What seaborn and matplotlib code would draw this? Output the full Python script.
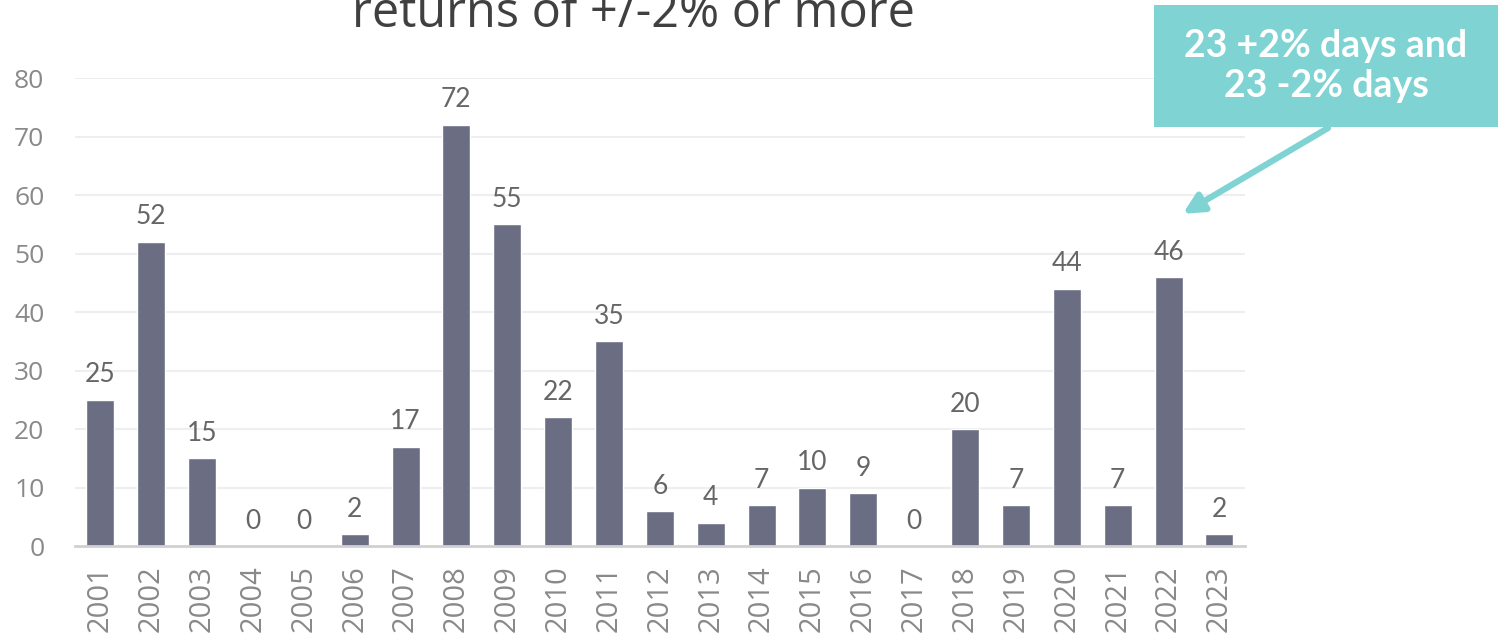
import matplotlib
matplotlib.use("Agg")
import matplotlib.pyplot as plt
from matplotlib.patches import Rectangle
import seaborn as sns
import pandas as pd

years = [str(y) for y in range(2001, 2024)]
counts = [25, 52, 15, 0, 0, 2, 17, 72, 55, 22, 35, 6, 4, 7, 10, 9, 0, 20, 7, 44, 7, 46, 2]
yticks = [0, 10, 20, 30, 40, 50, 60, 70, 80]
title_text = "returns of +/-2% or more"
callout_text = "23 +2% days and\n23 -2% days"

sns.set_theme(style="white")
plt.rcParams['font.family'] = ['Open Sans', 'DejaVu Sans']

df = pd.DataFrame({"year": years, "count": counts})

W, H = 1498, 635
fig = plt.figure(figsize=(W / 100, H / 100), dpi=100)
ax = fig.add_axes([0.050, 0.140, 0.781, 0.737])

sns.barplot(data=df, x="year", y="count", color="#6B6E82", width=0.55,
            saturation=1, ax=ax, zorder=3)

ax.set_ylim(0, 80)
ax.set_xlim(-0.5, len(years) - 0.5)
ax.set_yticks(yticks)
ax.set_xlabel("")
ax.set_ylabel("")
for y in yticks[1:]:
    ax.axhline(y, color="#EEEEEE", lw=1.5, zorder=1)
for s in ["top", "right", "left"]:
    ax.spines[s].set_visible(False)
ax.spines["bottom"].set_color("#D0D0D0")
ax.spines["bottom"].set_linewidth(2)
ax.spines["bottom"].set_zorder(4)

ax.tick_params(axis="y", labelsize=19, labelcolor="#898989", length=0, pad=22)
ax.tick_params(axis="x", labelsize=21, labelcolor="#898989", length=0, pad=14,
               labelrotation=90)
for lab in ax.get_xticklabels():
    lab.set_va("top")

for c in ax.containers:
    ax.bar_label(c, labels=[str(v) for v in counts], padding=9,
                 fontsize=19, color="#666666", family=['Lato', 'DejaVu Sans'])

fig.text(633 / W, 1 - 27 / H, title_text, ha="center", va="baseline",
         fontsize=35, color="#404040")

# callout box
fig.add_artist(Rectangle((1154 / W, 1 - 127 / H), (W - 1154) / W, 122 / H,
                         transform=fig.transFigure, fc="#7FD3D3", ec="none",
                         zorder=5))
fig.text(1326 / W, 1 - 66 / H, callout_text, ha="center", va="center",
         fontsize=27, fontweight="bold", color="white", linespacing=1.2,
         family=['Lato', 'DejaVu Sans'], zorder=6)
ax.annotate("", xy=(21.28, 56.8), xycoords="data",
            xytext=(1328 / W, 1 - 128 / H), textcoords="figure fraction",
            arrowprops=dict(arrowstyle="-|>,head_length=1.0,head_width=0.5",
                            color="#7FD3D3", lw=4.5, shrinkA=0, shrinkB=0),
            annotation_clip=False)

fig.savefig("out.png", dpi=100)
